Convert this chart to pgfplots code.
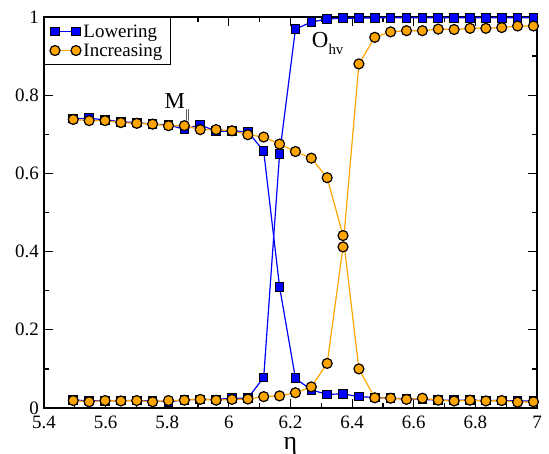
\documentclass[border=0pt]{standalone}
\usepackage{pgfplots}
\pgfplotsset{compat=1.18}
\usepackage{fontspec}
\setmainfont{Liberation Serif}
\definecolor{myblue}{RGB}{0,0,255}
\definecolor{myorange}{RGB}{255,165,0}
\begin{document}
\begin{tikzpicture}
\begin{axis}[
  scale only axis,
  width=493bp, height=391bp,
  xmin=5.4, xmax=7, ymin=0, ymax=1,
  xtick={5.4,5.6,5.8,6,6.2,6.4,6.6,6.8,7},
  ytick={0,0.2,0.4,0.6,0.8,1},
  minor xtick={5.5,5.7,5.9,6.1,6.3,6.5,6.7,6.9},
  minor ytick={0.1,0.3,0.5,0.7,0.9},
  tick pos=both, tick align=inside,
  major tick length=9bp, minor tick length=5.5bp,
  axis line style={line width=1.3bp},
  every tick/.style={line width=1.2bp, black},
  /pgf/number format/assume math mode=true,
  tick label style={font=\fontsize{19}{19}\selectfont},
  xticklabel style={anchor=base, inner sep=0pt, yshift=-20bp},
  yticklabel style={anchor=east, inner sep=0pt, xshift=-5bp},
  xlabel={\fontsize{26}{26}\selectfont η},
  xlabel style={at={(axis description cs:0.5,0)}, anchor=base, inner sep=0pt, yshift=-41bp},
  clip=false,
  legend cell align=left,
  legend style={at={(0,1)}, anchor=north west, draw=black, line width=1bp, fill=white,
    font=\fontsize{19}{20}\selectfont, inner xsep=5.5bp, inner ysep=4.5bp, row sep=0bp,
    nodes={inner sep=2.5bp}},
  legend image code/.code={\draw[#1] plot coordinates {(0bp,0bp) (21bp,0bp)};},
]
\coordinate (bl) at (rel axis cs:0,0);
\coordinate (tr) at (rel axis cs:1,1);

% Lowering: M (order parameter)
\addplot[color=myblue, line width=1.2bp, mark=square*, mark size=4.3bp,
  mark options={fill=myblue, draw=black, line width=1bp}] coordinates {
(5.495,0.740) (5.5465,0.741) (5.598,0.737) (5.6495,0.732) (5.701,0.730)
(5.7525,0.726) (5.804,0.724) (5.8555,0.713) (5.907,0.724) (5.9585,0.708)
(6.010,0.708) (6.0615,0.707) (6.113,0.657) (6.1645,0.310) (6.216,0.076)
(6.2675,0.046) (6.319,0.035) (6.3705,0.036) (6.422,0.029) (6.4735,0.027)
(6.525,0.025) (6.5765,0.024) (6.628,0.022) (6.6795,0.020) (6.731,0.020)
(6.7825,0.020) (6.834,0.019) (6.8855,0.019) (6.937,0.018) (6.9885,0.018)
};
\addlegendentry{Lowering}
% Lowering: O_hv
\addplot[forget plot, color=myblue, line width=1.2bp, mark=square*, mark size=4.3bp,
  mark options={fill=myblue, draw=black, line width=1bp}] coordinates {
(5.495,0.020) (5.5465,0.019) (5.598,0.018) (5.6495,0.019) (5.701,0.019)
(5.7525,0.018) (5.804,0.016) (5.8555,0.021) (5.907,0.022) (5.9585,0.022)
(6.010,0.025) (6.0615,0.025) (6.113,0.078) (6.1645,0.649) (6.216,0.969)
(6.2675,0.987) (6.319,0.995) (6.3705,0.997) (6.422,0.997) (6.4735,0.998)
(6.525,0.998) (6.5765,0.998) (6.628,0.998) (6.6795,0.998) (6.731,0.998)
(6.7825,0.998) (6.834,0.998) (6.8855,0.998) (6.937,0.998) (6.9885,0.998)
};
% Increasing: M
\addplot[color=myorange, line width=1.2bp, mark=*, mark size=5bp,
  mark options={fill=myorange, draw=black, line width=1.2bp}] coordinates {
(5.495,0.738) (5.5465,0.735) (5.598,0.735) (5.6495,0.730) (5.701,0.728)
(5.7525,0.726) (5.804,0.722) (5.8555,0.722) (5.907,0.712) (5.9585,0.712)
(6.010,0.709) (6.0615,0.699) (6.113,0.693) (6.1645,0.675) (6.216,0.656)
(6.2675,0.639) (6.319,0.589) (6.3705,0.441) (6.422,0.100) (6.4735,0.026)
(6.525,0.025) (6.5765,0.022) (6.628,0.025) (6.6795,0.020) (6.731,0.018)
(6.7825,0.020) (6.834,0.018) (6.8855,0.019) (6.937,0.015) (6.9885,0.016)
};
\addlegendentry{Increasing}
% Increasing: O_hv
\addplot[forget plot, color=myorange, line width=1.2bp, mark=*, mark size=5bp,
  mark options={fill=myorange, draw=black, line width=1.2bp}] coordinates {
(5.495,0.019) (5.5465,0.016) (5.598,0.019) (5.6495,0.018) (5.701,0.019)
(5.7525,0.016) (5.804,0.019) (5.8555,0.020) (5.907,0.022) (5.9585,0.020)
(6.010,0.022) (6.0615,0.023) (6.113,0.029) (6.1645,0.031) (6.216,0.039)
(6.2675,0.054) (6.319,0.114) (6.3705,0.412) (6.422,0.880) (6.4735,0.948)
(6.525,0.962) (6.5765,0.965) (6.628,0.965) (6.6795,0.969) (6.731,0.968)
(6.7825,0.971) (6.834,0.971) (6.8855,0.973) (6.937,0.977) (6.9885,0.977)
};

\node[anchor=base west, inner sep=0pt, font=\fontsize{23}{23}\selectfont] at (axis cs:5.791,0.765)
  {M\raisebox{-9.5bp}{\fontsize{13}{13}\selectfont |\kern-0.5bp|}};
\node[anchor=base west, inner sep=0pt, font=\fontsize{23}{23}\selectfont] at (axis cs:6.269,0.921)
  {O\raisebox{-7bp}{\fontsize{15}{15}\selectfont hv}};
\end{axis}
\pgfresetboundingbox
\path[use as bounding box] ([shift={(-44bp,-46bp)}]bl) rectangle ([shift={(12bp,17bp)}]tr);
\end{tikzpicture}
\end{document}
